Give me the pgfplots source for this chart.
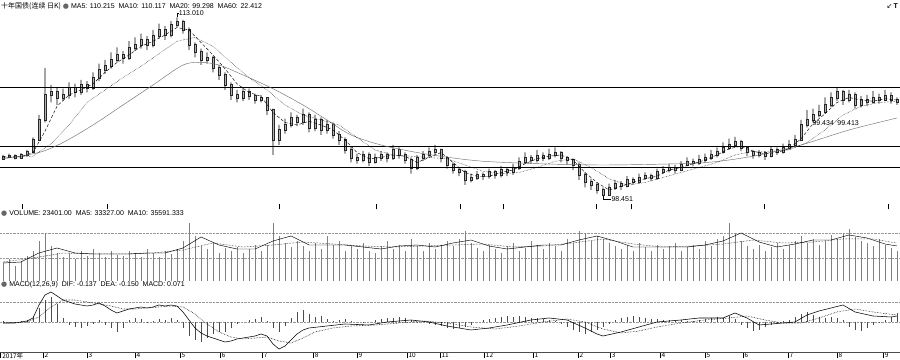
\documentclass[border=0pt]{standalone}
\usepackage{pgfplots}
\pgfplotsset{compat=1.18}
\usepackage{pgfplotstable}
\usepackage{fontspec}
\setmainfont{Liberation Sans}
\newfontfamily\cjk{Noto Sans CJK SC}
\newfontfamily\dejavu{DejaVu Sans}

\pgfplotstableread{
i o h l c
0 101.30 101.60 101.20 101.44
1 101.44 101.70 101.35 101.52
2 101.52 101.65 101.25 101.36
3 101.36 101.75 101.30 101.60
4 101.60 102.00 101.50 101.84
5 101.84 103.00 101.75 102.80
6 102.80 104.80 102.70 104.40
7 104.40 108.56 104.20 106.40
8 106.40 107.20 105.80 106.64
9 106.64 107.00 105.60 106.16
10 106.16 106.90 105.90 106.40
11 106.40 107.40 106.10 106.96
12 106.96 107.30 106.20 106.64
13 106.64 107.60 106.40 107.20
14 107.20 107.50 106.60 106.96
15 106.96 108.20 106.80 107.76
16 107.76 108.90 107.50 108.40
17 108.40 109.20 108.10 108.72
18 108.72 109.80 108.50 109.20
19 109.20 110.20 109.00 109.60
20 109.60 109.90 108.90 109.36
21 109.36 110.70 109.20 110.16
22 110.16 111.00 109.90 110.40
23 110.40 111.30 110.10 110.80
24 110.80 111.10 110.00 110.40
25 110.40 111.60 110.20 111.12
26 111.12 112.10 110.90 111.60
27 111.60 111.90 110.80 111.20
28 111.20 112.30 111.00 112.00
29 112.00 112.60 111.80 112.30
30 112.30 112.40 111.30 111.60
31 111.60 111.80 110.00 110.40
32 110.40 110.60 109.40 109.84
33 109.84 110.10 108.80 109.20
34 109.20 109.80 108.90 109.36
35 109.36 109.50 108.20 108.56
36 108.56 108.80 107.60 108.00
37 108.00 108.20 106.80 107.20
38 107.20 107.40 106.00 106.40
39 106.40 106.80 105.80 106.16
40 106.16 107.00 105.90 106.64
41 106.64 106.90 106.00 106.32
42 106.32 106.50 105.70 106.00
43 106.00 106.40 105.80 106.16
44 106.16 106.20 104.80 105.20
45 105.20 105.30 101.60 102.80
46 102.80 104.00 102.40 103.60
47 103.60 104.50 103.30 104.00
48 104.00 105.00 103.80 104.56
49 104.56 104.80 103.90 104.24
50 104.24 105.30 104.00 104.80
51 104.80 105.00 103.40 103.76
52 103.76 104.80 103.50 104.40
53 104.40 104.60 103.20 103.60
54 103.60 104.40 103.30 104.00
55 104.00 104.20 102.90 103.20
56 103.20 103.50 102.40 102.80
57 102.80 103.00 101.70 102.00
58 102.00 102.30 101.00 101.36
59 101.36 101.70 100.90 101.20
60 101.20 101.90 101.00 101.60
61 101.60 101.80 100.70 101.04
62 101.04 101.70 100.90 101.36
63 101.36 101.90 101.10 101.60
64 101.60 101.80 101.00 101.36
65 101.36 102.40 101.20 102.00
66 102.00 102.20 101.30 101.60
67 101.60 101.80 100.90 101.20
68 101.20 101.40 100.10 100.56
69 100.56 101.60 100.40 101.36
70 101.36 101.90 101.10 101.60
71 101.60 102.20 101.40 101.84
72 101.84 102.40 101.60 102.00
73 102.00 102.10 101.00 101.36
74 101.36 101.50 100.50 100.80
75 100.80 101.00 100.10 100.40
76 100.40 100.60 99.90 100.24
77 100.24 100.40 99.20 99.60
78 99.60 100.10 99.40 99.76
79 99.76 100.30 99.60 100.00
80 100.00 100.20 99.60 99.92
81 99.92 100.50 99.70 100.24
82 100.24 100.40 99.70 100.00
83 100.00 100.70 99.80 100.40
84 100.40 100.60 99.90 100.24
85 100.24 100.90 100.00 100.56
86 100.56 101.40 100.40 101.04
87 101.04 101.80 100.90 101.36
88 101.36 101.60 100.90 101.20
89 101.20 102.00 101.00 101.52
90 101.52 101.80 101.10 101.36
91 101.36 102.10 101.20 101.60
92 101.60 102.20 101.40 101.76
93 101.76 101.90 101.00 101.36
94 101.36 101.50 100.80 101.20
95 101.20 101.30 100.40 100.80
96 100.80 101.00 99.60 100.00
97 100.00 100.20 99.00 99.44
98 99.44 99.70 98.80 99.20
99 99.20 99.40 98.50 98.80
100 98.80 99.00 98.30 98.45
101 98.45 99.30 98.35 98.96
102 98.96 99.60 98.80 99.28
103 99.28 99.50 98.80 99.12
104 99.12 99.90 99.00 99.60
105 99.60 99.80 99.20 99.44
106 99.44 100.10 99.30 99.76
107 99.76 100.20 99.60 99.92
108 99.92 100.10 99.50 99.76
109 99.76 100.50 99.60 100.24
110 100.24 100.70 100.10 100.40
111 100.40 100.90 100.20 100.56
112 100.56 100.80 100.10 100.40
113 100.40 101.10 100.30 100.80
114 100.80 101.40 100.70 101.04
115 101.04 101.30 100.70 100.96
116 100.96 101.60 100.80 101.20
117 101.20 101.70 101.00 101.36
118 101.36 102.00 101.20 101.60
119 101.60 102.20 101.40 101.84
120 101.84 102.60 101.70 102.16
121 102.16 102.90 102.00 102.40
122 102.40 103.04 102.20 102.64
123 102.64 102.80 101.90 102.16
124 102.16 102.30 101.50 101.84
125 101.84 102.00 101.30 101.60
126 101.60 102.00 101.40 101.76
127 101.76 101.90 101.20 101.52
128 101.52 102.30 101.40 102.00
129 102.00 102.20 101.60 101.84
130 101.84 102.50 101.70 102.16
131 102.16 102.80 102.00 102.40
132 102.40 103.20 102.20 102.80
133 102.80 104.40 102.70 104.00
134 104.00 105.20 103.80 104.40
135 104.40 105.30 104.20 104.80
136 104.80 105.60 104.60 105.04
137 105.04 106.20 104.90 105.60
138 105.60 106.60 105.40 106.16
139 106.16 106.96 105.90 106.64
140 106.64 106.80 105.60 106.00
141 106.00 106.80 105.80 106.40
142 106.40 106.60 105.30 105.60
143 105.60 106.30 105.40 106.00
144 106.00 106.40 105.50 105.84
145 105.84 106.70 105.70 106.16
146 106.16 106.50 105.70 106.00
147 106.00 106.80 105.90 106.32
148 106.32 106.60 105.70 106.00
149 106.00 106.20 105.60 105.84
}\candles

\pgfplotsset{
  panel/.style={scale only axis, width=900pt, xmin=-0.5, xmax=149.5,
    anchor=south west, axis line style={draw=none}, ytick=\empty,
    tick style={black, thin}},
  pricepanel/.style={panel, at={(0pt,152pt)}, height=207pt, ymin=97.44, ymax=114},
}

\begin{document}
\begin{tikzpicture}
\path[use as bounding box] (0pt,0pt) rectangle (900pt,359pt);

% ---------------- price panel: wicks ----------------
\begin{axis}[pricepanel, xtick=\empty, ybar stacked, bar shift=0pt, bar width=0.6pt]
\addplot[draw=none, fill=none] table[x=i, y=l] {\candles};
\addplot[draw=none, fill=black] table[x=i, y expr={\thisrow{h}-\thisrow{l}}] {\candles};
\end{axis}
% ---------------- price panel: bodies ----------------
\begin{axis}[pricepanel, xtick=\empty, ybar stacked, bar shift=0pt, bar width=1.5pt]
\addplot[draw=none, fill=none] table[x=i, y expr={min(\thisrow{o},\thisrow{c})-0.03}] {\candles};
\addplot[draw=black!85, line width=0.3pt, fill=black!30] table[x=i, y expr={abs(\thisrow{c}-\thisrow{o})+0.06}] {\candles};
\end{axis}

% ---------------- price panel: lines ----------------
\begin{axis}[pricepanel,
  xtick={3.2,17.3,46,62.2,76.2,83.3,98.8,104.7,126.8,147.5}, xticklabels={},
  xtick pos=left, xtick align=center, major tick length=5pt, clip=false]
\addplot[black, line width=1.3pt] coordinates {(-0.5,107.0) (149.5,107.0)};
\addplot[black, line width=0.8pt] coordinates {(-0.5,102.32) (149.5,102.32)};
\addplot[black, line width=0.8pt] coordinates {(-0.5,100.64) (149.5,100.64)};
\addplot[black!55, line width=0.45pt, smooth] coordinates {
(0,101.3) (6,101.8) (10,102.6) (15,104.0) (20,105.6) (25,107.2) (30,108.8) (33,109.0)
(36,108.8) (40,108.0) (45,106.9) (50,105.6) (54,104.4) (58,103.2) (63,102.4)
(69,101.8) (75,101.36) (80,101.1) (86,100.96) (93,100.85) (100,100.8) (108,100.85)
(116,100.96) (121,101.2) (126,101.6) (133,102.4) (141,103.6) (149,104.56)};
\addplot[black, line width=0.45pt, densely dotted] coordinates {
(0,101.4) (5,101.5) (8,102.5) (11,104.0) (14,105.8) (17,106.8) (20,107.8) (23,108.7)
(26,109.7) (29,110.7) (32,111.0) (35,110.3) (38,109.0) (41,107.8) (44,106.8) (47,105.6)
(50,104.8) (53,104.4) (56,104.0) (59,103.0) (62,102.0) (65,101.6) (68,101.5) (71,101.4)
(74,101.3) (77,100.8) (80,100.3) (83,100.1) (86,100.2) (89,100.6) (92,101.1) (95,101.3)
(98,100.6) (101,99.7) (104,99.2) (107,99.4) (110,99.8) (113,100.2) (116,100.6) (119,101.0)
(122,101.6) (125,101.9) (128,101.9) (131,102.0) (134,102.6) (137,103.6) (140,104.8)
(143,105.5) (146,105.8) (149,105.9)};
\addplot[black, line width=0.45pt, densely dashed] coordinates {
(0,101.45) (3,101.45) (5,101.8) (7,103.5) (9,105.5) (11,106.4) (13,106.8) (15,107.3)
(17,108.2) (19,109.0) (21,109.6) (23,110.3) (25,110.7) (27,111.2) (29,111.8) (31,111.6)
(33,110.6) (35,109.6) (37,108.5) (39,107.3) (41,106.6) (43,106.3) (45,105.0) (47,104.2)
(49,104.0) (51,104.3) (53,104.0) (55,103.6) (57,102.8) (59,101.8) (61,101.3) (63,101.4)
(65,101.6) (67,101.5) (69,101.0) (71,101.4) (73,101.8) (75,101.0) (77,100.2) (79,99.9)
(81,99.9) (83,100.2) (85,100.4) (87,100.9) (89,101.3) (91,101.5) (93,101.6) (95,101.2)
(97,100.2) (99,99.4) (101,98.8) (103,99.1) (105,99.4) (107,99.7) (109,99.9) (111,100.4)
(113,100.6) (115,100.9) (117,101.2) (119,101.6) (121,102.1) (123,102.3) (125,101.9)
(127,101.7) (129,101.8) (131,102.1) (133,102.9) (135,104.1) (137,104.9) (139,105.8)
(141,106.2) (143,106.0) (145,105.9) (147,106.1) (149,106.0)};
\draw[black, thin] (axis cs:29,112.6) -- (axis cs:29,112.95) -- (axis cs:29.4,112.95);
\node[anchor=west, inner sep=0.5pt, font=\fontsize{7}{8}\selectfont] at (axis cs:29.2,112.95) {113.010};
\draw[black, thin] (axis cs:100,98.3) -- (axis cs:100,98.1) -- (axis cs:101.3,98.1);
\node[anchor=west, inner sep=0.5pt, font=\fontsize{7}{8}\selectfont] at (axis cs:101.3,98.1) {98.451};
\node[anchor=west, inner sep=0.5pt, font=\fontsize{7}{8}\selectfont] at (axis cs:134.8,104.16) {99.434\enspace 99.413};
\end{axis}

% ---------------- volume panel ----------------
\begin{axis}[panel, at={(0pt,78pt)}, height=59pt, ymin=0, ymax=59,
  ytick={23,48}, yticklabels={}, ymajorgrids, grid style={densely dotted, black!40},
  xtick=\empty, major tick length=0pt]
\addplot[ycomb, black!50, line width=0.7pt, mark=none] coordinates {
(0,18)(1,22)(2,15)(3,20)(4,25)(5,30)(6,40)(7,48)(8,35)(9,28)
(10,24)(11,28)(12,22)(13,30)(14,25)(15,32)(16,28)(17,24)(18,30)(19,26)
(20,25)(21,30)(22,28)(23,24)(24,32)(25,28)(26,24)(27,30)(28,27)(29,32)
(30,40)(31,58)(32,45)(33,35)(34,32)(35,38)(36,28)(37,33)(38,30)(39,34)
(40,28)(41,32)(42,36)(43,30)(44,36)(45,58)(46,45)(47,38)(48,34)(49,40)
(50,35)(51,30)(52,38)(53,32)(54,45)(55,36)(56,40)(57,30)(58,35)(59,32)
(60,38)(61,30)(62,28)(63,35)(64,40)(65,32)(66,36)(67,30)(68,42)(69,35)
(70,30)(71,38)(72,32)(73,36)(74,40)(75,35)(76,42)(77,50)(78,38)(79,33)
(80,30)(81,36)(82,32)(83,28)(84,35)(85,38)(86,30)(87,33)(88,40)(89,36)
(90,32)(91,38)(92,35)(93,30)(94,42)(95,38)(96,50)(97,48)(98,40)(99,45)
(100,42)(101,38)(102,35)(103,32)(104,36)(105,30)(106,38)(107,34)(108,30)(109,36)
(110,32)(111,35)(112,38)(113,30)(114,34)(115,36)(116,32)(117,40)(118,35)(119,42)
(120,45)(121,58)(122,48)(123,40)(124,35)(125,32)(126,36)(127,30)(128,34)(129,38)
(130,32)(131,36)(132,40)(133,45)(134,38)(135,42)(136,36)(137,40)(138,46)(139,42)
(140,48)(141,52)(142,44)(143,40)(144,38)(145,35)(146,42)(147,36)(148,33)(149,30)};
\addplot[black, line width=0.45pt, mark=none] coordinates {
(0,18) (3,19) (6,28) (9,33) (12,28) (15,27) (18,27) (21,27) (24,28) (27,28) (30,33)
(33,44) (36,36) (39,32) (42,32) (45,40) (48,45) (51,36) (54,36) (57,36) (60,34) (63,32)
(66,35) (69,36) (72,34) (75,38) (78,41) (81,35) (84,32) (87,34) (90,36) (93,36) (96,41)
(99,45) (102,40) (105,34) (108,34) (111,34) (114,34) (117,36) (120,40) (123,48) (126,39)
(129,34) (132,37) (135,41) (138,41) (141,46) (144,43) (147,37) (149,35)};
\addplot[black, line width=0.5pt, densely dotted, mark=none] coordinates {
(0,19) (5,23) (10,28) (15,27) (20,27) (25,28) (30,31) (35,38) (40,34) (45,36) (50,39)
(55,37) (60,35) (65,34) (70,35) (75,36) (80,37) (85,34) (90,35) (95,38) (100,42) (105,37)
(110,34) (115,35) (120,37) (125,41) (130,38) (135,39) (140,42) (145,42) (149,38)};
\end{axis}

% ---------------- MACD panel ----------------
\begin{axis}[panel, at={(0pt,7pt)}, height=62pt, ymin=-0.30, ymax=0.32,
  ytick={0,0.2}, yticklabels={}, ymajorgrids, grid style={densely dotted, black!40},
  ytick style={draw=none},
  xtick={-0.4,6.67,14,22,29.5,36.2,43.2,51.7,59,67.3,72.8,80.2,88.3,95.8,101.2,109.5,117,123.3,130.8,139,146.7},
  xticklabels={2017年,2,3,4,5,6,7,8,9,10,11,12,1,2,3,4,5,6,7,8,9},
  xtick pos=left, xtick align=outside, major tick length=6pt,
  xticklabel style={anchor=north west, inner sep=0.5pt, xshift=1pt, yshift=6pt,
    font=\fontsize{6.5}{7}\selectfont\cjk},
  clip=false]
\draw[black!70, line width=0.5pt] (rel axis cs:0,0) -- (rel axis cs:1,0) -- (rel axis cs:1,1.06);
\addplot[ycomb, black!70, line width=0.55pt, mark=none] coordinates {
(0,0.01)(1,0)(2,-0.01)(3,0.01)(4,0.02)(5,0.06)(6,0.14)(7,0.22)(8,0.25)(9,0.18)
(10,0.04)(11,-0.03)(12,-0.05)(13,-0.06)(14,-0.04)(15,-0.02)(16,0.02)(17,-0.03)(18,-0.06)(19,-0.10)
(20,-0.06)(21,0.02)(22,0.04)(23,0.03)(24,-0.01)(25,0.01)(26,0.03)(27,0.02)(28,0.04)(29,0.02)
(30,-0.06)(31,-0.14)(32,-0.18)(33,-0.20)(34,-0.16)(35,-0.12)(36,-0.10)(37,-0.10)(38,-0.06)(39,-0.02)
(40,0)(41,0.02)(42,0.03)(43,0.05)(44,0.01)(45,-0.06)(46,-0.10)(47,-0.04)(48,0.04)(49,0.10)
(50,0.12)(51,0.08)(52,0.05)(53,0.06)(54,0.03)(55,0.01)(56,0.02)(57,0.03)(58,0.01)(59,0)
(60,-0.01)(61,0)(62,0.02)(63,0.03)(64,0.04)(65,0.04)(66,0.05)(67,0.04)(68,0.02)(69,-0.01)
(70,0)(71,-0.02)(72,-0.03)(73,-0.04)(74,-0.06)(75,-0.07)(76,-0.06)(77,-0.05)(78,-0.03)(79,0)
(80,0.02)(81,0.03)(82,0.04)(83,0.05)(84,0.06)(85,0.05)(86,0.06)(87,0.05)(88,0.04)(89,0.04)
(90,0.03)(91,0.02)(92,0.01)(93,-0.02)(94,-0.05)(95,-0.08)(96,-0.10)(97,-0.12)(98,-0.10)(99,-0.08)
(100,-0.05)(101,-0.02)(102,0.02)(103,0.04)(104,0.05)(105,0.06)(106,0.05)(107,0.04)(108,0.03)(109,0.03)
(110,0.02)(111,0.02)(112,0.01)(113,0.02)(114,0.01)(115,0.01)(116,0.02)(117,0.03)(118,0.04)(119,0.05)
(120,0.04)(121,0.06)(122,0.03)(123,-0.03)(124,-0.06)(125,-0.09)(126,-0.08)(127,-0.05)(128,-0.03)(129,-0.01)
(130,0.01)(131,0.02)(132,0.05)(133,0.08)(134,0.10)(135,0.07)(136,0.05)(137,0.04)(138,0.05)(139,0.04)
(140,0.02)(141,-0.05)(142,-0.08)(143,-0.09)(144,-0.06)(145,-0.03)(146,-0.01)(147,0.02)(148,0.05)(149,0.09)};
\addplot[black, line width=0.55pt, mark=none] coordinates {
(0,-0.01) (2,-0.01) (3,0.00) (4,0.01) (5,0.04) (6,0.17) (7,0.27) (8,0.30) (9,0.26) (10,0.22)
(11,0.20) (12,0.18) (13,0.17) (14,0.16) (15,0.17) (16,0.19) (17,0.16) (18,0.12) (19,0.09)
(20,0.11) (21,0.13) (22,0.14) (23,0.15) (24,0.14) (25,0.15) (26,0.17) (27,0.16) (28,0.17)
(29,0.16) (30,0.10) (31,0.02) (32,-0.06) (33,-0.11) (34,-0.14) (35,-0.16) (36,-0.18)
(37,-0.20) (38,-0.19) (39,-0.17) (40,-0.16) (41,-0.15) (42,-0.14) (43,-0.12) (44,-0.14)
(45,-0.22) (46,-0.27) (47,-0.24) (48,-0.18) (49,-0.12) (50,-0.08) (51,-0.06) (54,-0.04)
(57,-0.02) (61,-0.03) (64,0.00) (68,0.02) (71,0.00) (74,-0.04) (78,-0.08) (81,-0.06)
(84,-0.03) (88,0.02) (91,0.04) (94,0.02) (97,-0.06) (99,-0.12) (100,-0.14) (103,-0.10)
(106,-0.05) (109,0.00) (113,0.02) (116,0.04) (120,0.04) (122,0.09) (124,0.04) (126,-0.03)
(130,-0.01) (132,0.00) (134,0.07) (136,0.11) (140,0.17) (142,0.10) (145,0.06) (148,0.05) (149,0.06)};
\addplot[black, line width=0.55pt, densely dotted, mark=none] coordinates {
(0,-0.01) (4,0.00) (6,0.05) (8,0.15) (10,0.22) (12,0.22) (14,0.20) (16,0.18) (18,0.16)
(20,0.13) (22,0.13) (24,0.14) (26,0.15) (28,0.16) (30,0.15) (32,0.08) (34,-0.02) (36,-0.10)
(38,-0.15) (40,-0.17) (42,-0.16) (44,-0.15) (46,-0.19) (48,-0.21) (50,-0.16) (52,-0.10)
(55,-0.06) (58,-0.04) (62,-0.03) (66,-0.01) (70,0.01) (74,-0.01) (78,-0.05) (82,-0.07)
(86,-0.04) (90,0.00) (94,0.03) (97,0.00) (100,-0.07) (103,-0.11) (106,-0.09) (109,-0.05)
(113,-0.01) (117,0.02) (121,0.04) (124,0.06) (127,0.02) (130,-0.01) (133,-0.01) (136,0.04)
(139,0.10) (142,0.13) (145,0.10) (149,0.07)};
\end{axis}

% ---------------- headers ----------------
\node[anchor=west, inner sep=0pt, font=\fontsize{7}{8}\selectfont] at (1pt,353pt)
  {{\cjk 十年国债(连续 日K)}\ {\dejavu\color{black!60}●}\ MA5: 110.215\ \ MA10: 110.117\ \ MA20: 99.298\ \ MA60: 22.412};
\node[anchor=east, inner sep=0pt, font=\fontsize{7}{8}\selectfont] at (898pt,353pt)
  {{\dejavu ↙}\,\textbf{T}};
\node[anchor=west, inner sep=0pt, font=\fontsize{7}{8}\selectfont] at (1pt,145.5pt)
  {{\dejavu\color{black!60}●}\ VOLUME: 23401.00\ \ MA5: 33327.00\ \ MA10: 35591.333};
\node[anchor=west, inner sep=0pt, font=\fontsize{7}{8}\selectfont] at (1pt,74pt)
  {{\dejavu\color{black!60}●}\ MACD(12,26,9)\ \ DIF: -0.137\ \ DEA: -0.150\ \ MACD: 0.071};
\end{tikzpicture}
\end{document}
